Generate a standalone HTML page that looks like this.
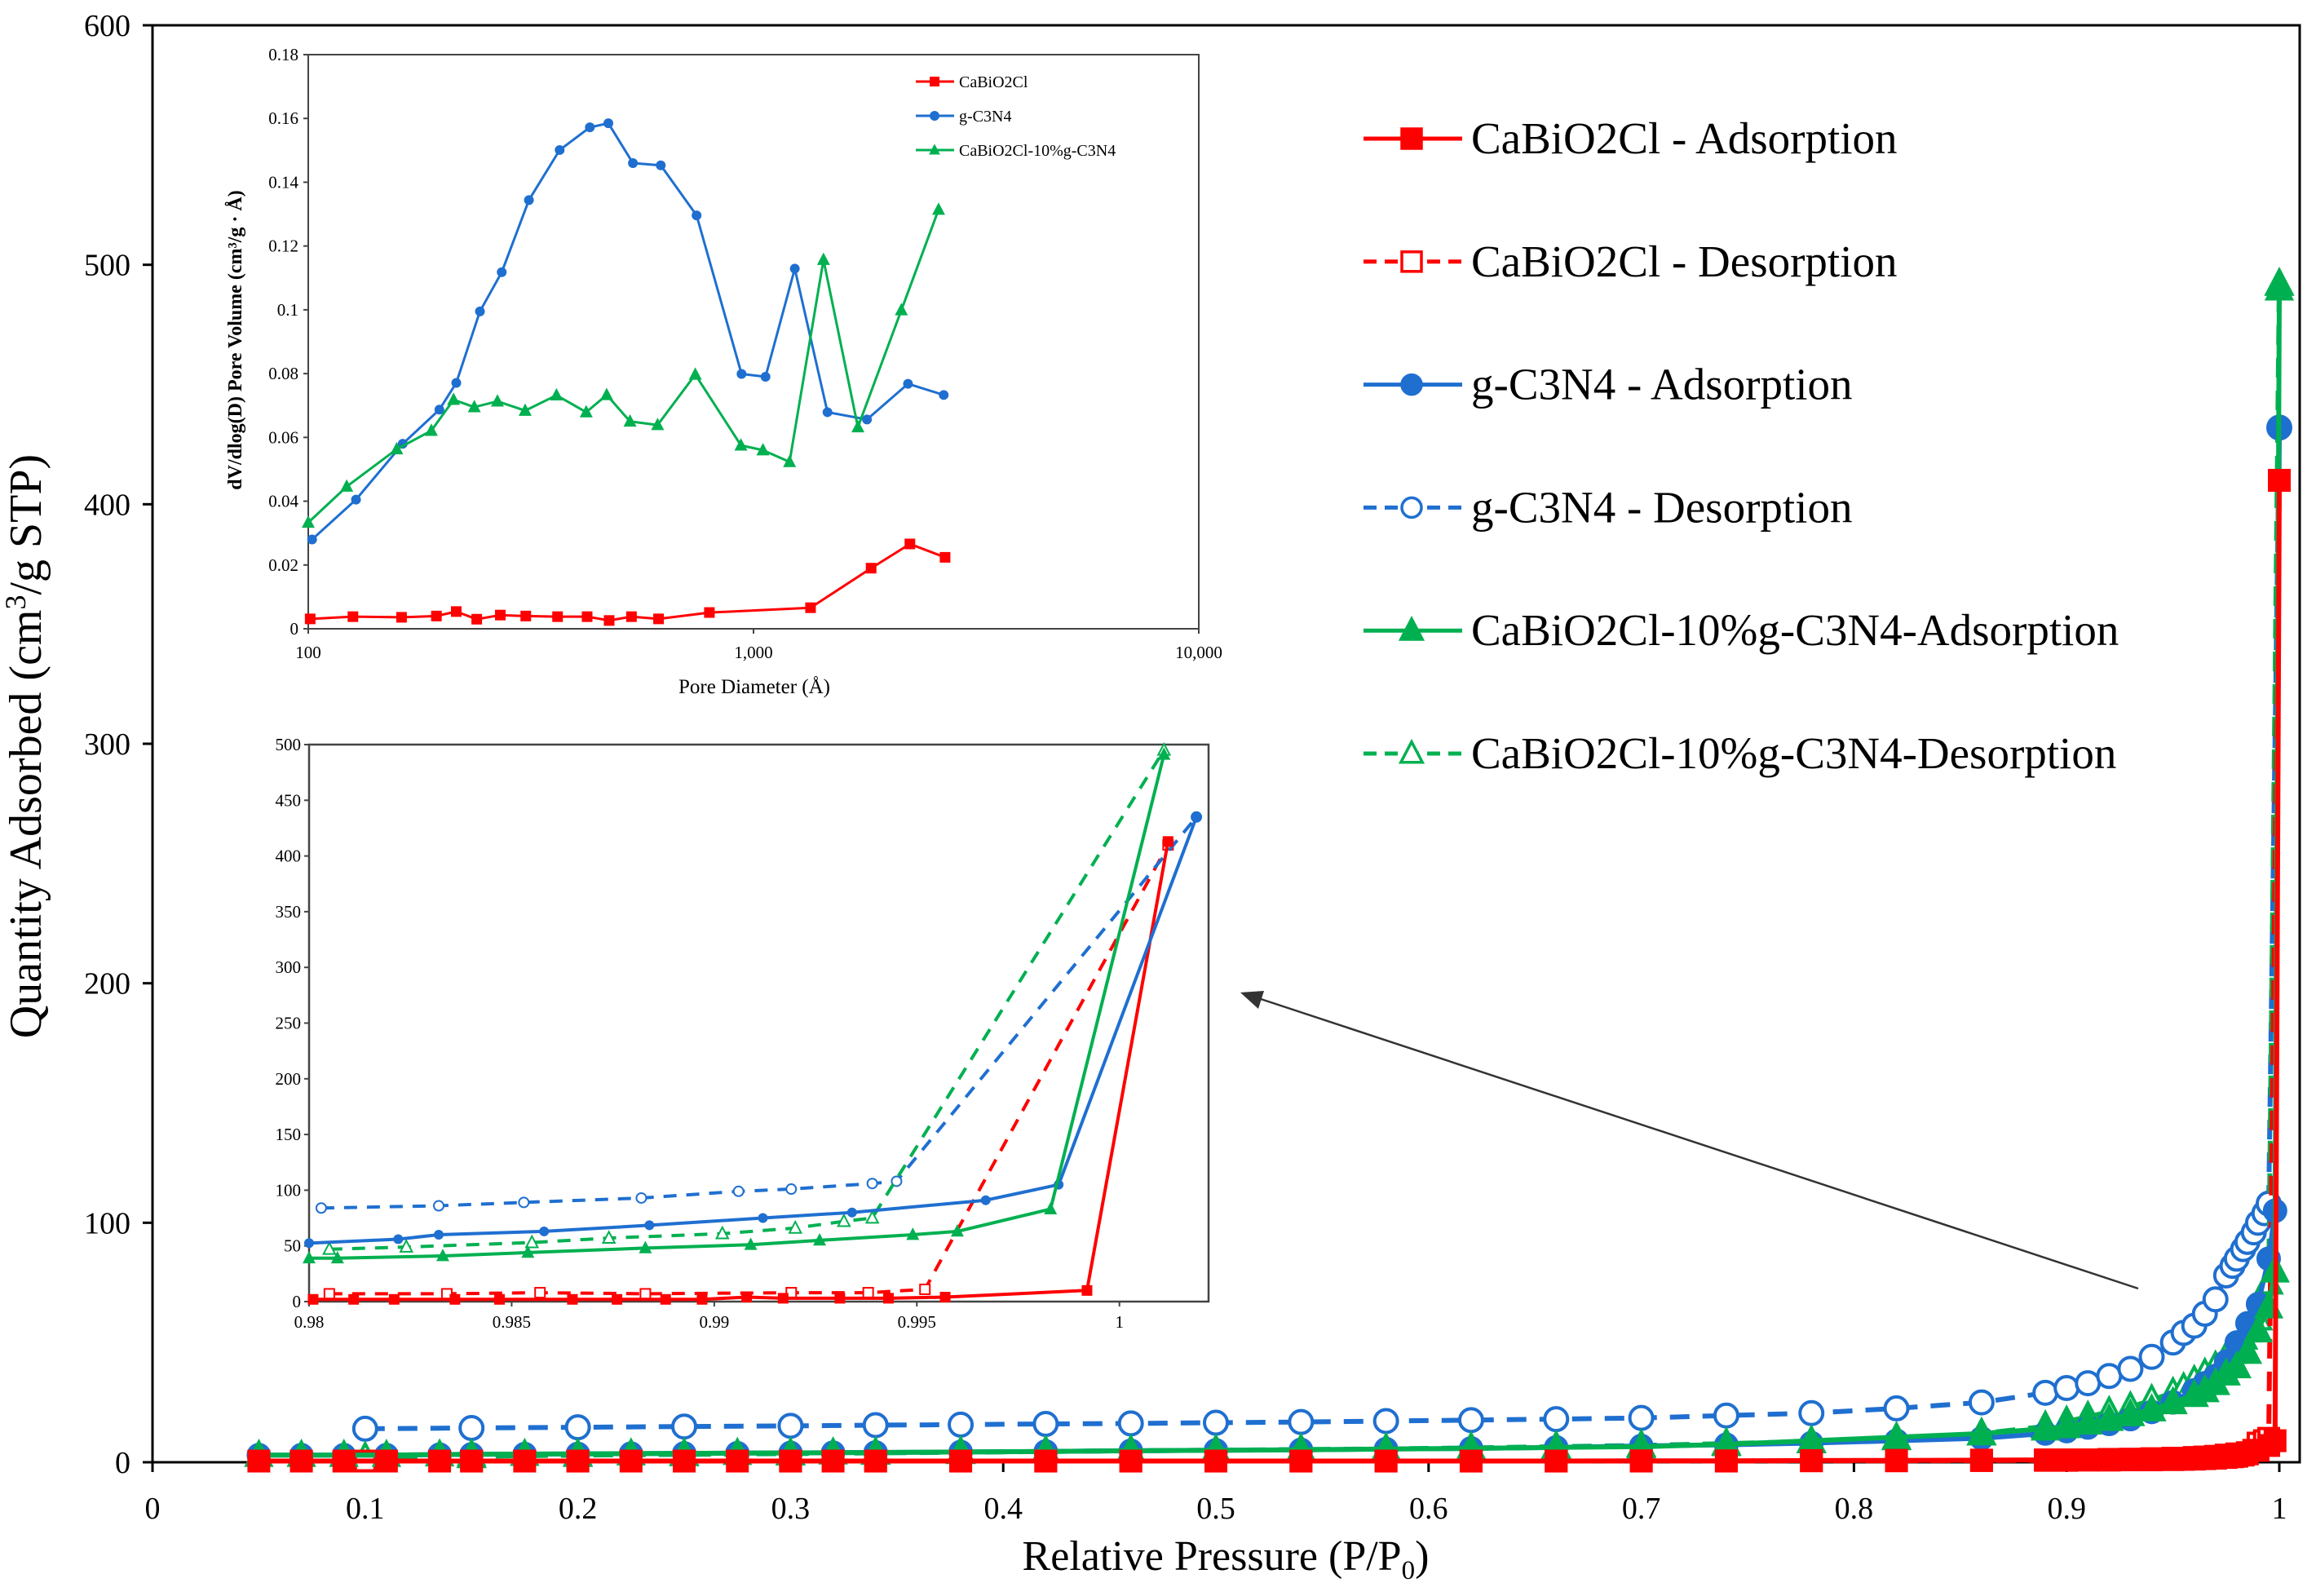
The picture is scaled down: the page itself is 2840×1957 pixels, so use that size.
<!DOCTYPE html>
<html><head><meta charset="utf-8"><style>
html,body{margin:0;padding:0;background:#fff}
svg{display:block;font-family:"Liberation Serif",serif}
</style></head><body>
<svg id="chart" width="2840" height="1957" viewBox="0 0 2840 1957" xmlns="http://www.w3.org/2000/svg">
<rect x="0" y="0" width="2840" height="1957" fill="#fff"/>
<g id="main"></g>
<g id="legend"></g>
<g id="inset1"></g>
<g id="inset2"></g>
<line x1="2622" y1="1580" x2="1540" y2="1223" stroke="#333" stroke-width="2.5"/>
<polygon points="1521,1217 1550,1215 1543,1237" fill="#333"/>
<text x="50" y="915" font-size="56" text-anchor="middle" transform="rotate(-90 50 915)">Quantity Adsorbed (cm<tspan font-size="36" dy="-19">3</tspan><tspan dy="19">/g STP)</tspan></text>
<text x="1503" y="1925" font-size="52" text-anchor="middle">Relative Pressure (P/P<tspan font-size="33" dy="11">0</tspan><tspan dy="-11">)</tspan></text>
</svg>
<script>
// ---- main chart data ----
const adsP = [0.05,0.07,0.09,0.11,0.135,0.15,0.175,0.2,0.225,0.25,0.275,0.3,0.32,0.34,0.38,0.42,0.46,0.5,0.54,0.58,0.62,0.66,0.7,0.74,0.78,0.82,0.86,0.89,0.9,0.91,0.92,0.93,0.94,0.95,0.96,0.965,0.97,0.975,0.98,0.985,0.99,0.995,0.998,1.0];
const redAds = [0.5,0.5,0.5,0.5,0.5,0.5,0.5,0.5,0.5,0.5,0.5,0.5,0.5,0.5,0.5,0.5,0.5,0.5,0.5,0.5,0.5,0.5,0.6,0.6,0.7,0.8,0.9,1,1,1,1.2,1.3,1.5,1.7,2,2.2,2.5,3,3.5,4,5,7,9,410];
const blueAds = [3,3,3,3,3.2,3.3,3.4,3.5,3.6,3.7,3.8,3.9,4,4.1,4.3,4.5,4.8,5,5.2,5.5,5.8,6.2,6.8,7.3,8,9,10,12,13,14.5,16,18,21,25,30,33,36,42,50,58,66,85,105,432];
const greenAds = [3,3,3,3,3.2,3.3,3.4,3.5,3.6,3.7,3.8,3.9,4,4.1,4.3,4.5,4.8,5,5.2,5.5,5.8,6.2,6.5,7.5,9,10.5,12,14,15,16.5,18,20,22,25,28,30,33,37,40,46,55,65,80,490];
const desP = [0.1,0.15,0.2,0.25,0.3,0.34,0.38,0.42,0.46,0.5,0.54,0.58,0.62,0.66,0.7,0.74,0.78,0.82,0.86,0.89,0.9,0.91,0.92,0.93,0.94,0.95,0.955,0.96,0.965,0.97,0.975,0.978,0.98,0.983,0.985,0.988,0.99,0.993,0.995,1.0];
const blueDes = [14,14.3,14.6,14.9,15.2,15.5,15.7,16,16.2,16.5,16.8,17.2,17.6,18,18.5,19.5,20.5,22.5,25,29,31,33,36,39,44,50,54,57,62,68,78,82,85,89,92,96,100,104,108,432];
const greenDes = [2,2.5,3,3.3,3.6,3.9,4.2,4.5,4.8,5,5.3,5.6,6,6.5,7,7.8,8.7,10,12,15,17,19,21,23,26,29,31,34,37,40,44,46,48,52,55,58,60,66,75,492];
const redDes = [0.5,0.5,0.5,0.5,0.5,0.5,0.5,0.5,0.5,0.5,0.5,0.5,0.5,0.5,0.5,0.5,0.6,0.6,0.7,0.8,0.8,0.9,0.9,1,1,1.1,1.2,1.3,1.5,1.7,2,2.3,2.5,3,3.5,5,8,9,10,410];
const xTicks = [0,0.1,0.2,0.3,0.4,0.5,0.6,0.7,0.8,0.9,1];
const yTicks = [0,100,200,300,400,500,600];
// ---- pore size inset data ----
const redD = [101,126,162,194,215,239,270,308,363,423,474,532,612,796,1343,1837,2245,2693];
const redPV = [0.0031,0.0038,0.0036,0.004,0.0054,0.003,0.0043,0.004,0.0038,0.0038,0.0026,0.0038,0.0031,0.0051,0.0066,0.019,0.0266,0.0224];
const blueD = [102,128,163,197,215,243,272,313,367,429,472,536,619,745,940,1064,1238,1466,1798,2223,2674];
const bluePV = [0.028,0.0405,0.058,0.0687,0.0771,0.0995,0.1118,0.1344,0.1501,0.1572,0.1585,0.146,0.1453,0.1296,0.0799,0.079,0.1129,0.0679,0.0656,0.0768,0.0733];
const greenD = [100,122,158,189,212,236,266,307,361,421,468,528,609,740,937,1050,1205,1436,1716,2148,2604];
const greenPV = [0.0333,0.0446,0.0563,0.0621,0.0718,0.0695,0.0713,0.0684,0.0732,0.0679,0.0733,0.065,0.0639,0.0797,0.0575,0.056,0.0523,0.1157,0.0632,0.0999,0.1314];
const poreYTicks = [0,0.02,0.04,0.06,0.08,0.1,0.12,0.14,0.16,0.18];
const poreXTicks = [100,1000,10000];
const poreXLabels = ["100","1,000","10,000"];
// ---- zoom inset data ----
const zRedAdsP = [0.9801,0.9811,0.9821,0.9836,0.9847,0.9865,0.9876,0.9888,0.9897,0.9908,0.9917,0.9931,0.9943,0.9957,0.9992,1.0012];
const zRedAds = [2,2,2,2,2,2,2,2,2,4,3,3,3,4,10,413];
const zRedDesP = [0.9805,0.9834,0.9857,0.9883,0.9919,0.9938,0.9952,1.0012];
const zRedDes = [7,7,8,7,8,8,11,410];
const zBlueAdsP = [0.98,0.9822,0.9832,0.9858,0.9884,0.9912,0.9934,0.9967,0.9985,1.0019];
const zBlueAds = [52.5,56,60,63,68.5,75,80,91,105,435];
const zBlueDesP = [0.9803,0.9832,0.9853,0.9882,0.9906,0.9919,0.9939,0.9945,1.0019];
const zBlueDes = [84,86,89,93,99,101,106,108,435];
const zGreenAdsP = [0.98,0.9807,0.9833,0.9854,0.9883,0.9909,0.9926,0.9949,0.996,0.9983,1.0011];
const zGreenAds = [39,39,41,44,48,51,55,60,63,83,491];
const zGreenDesP = [0.9805,0.9824,0.9855,0.9874,0.9902,0.992,0.9932,0.9939,1.0011];
const zGreenDes = [47,49,53,57,61,66,72,75,495];
const zXTicks = [0.98,0.985,0.99,0.995,1];
const zXLabels = ["0.98","0.985","0.99","0.995","1"];
const zYTicks = [0,50,100,150,200,250,300,350,400,450,500];

const NS = "http://www.w3.org/2000/svg";
const RED = "#ff0000", BLUE = "#1f6fd0", GREEN = "#00b050";
function mk(tag, attrs, parent){
  const el = document.createElementNS(NS, tag);
  for (const k in attrs) el.setAttribute(k, attrs[k]);
  parent.appendChild(el);
  return el;
}
function marker(g, shape, cx, cy, s, color, filled, sw){
  let el;
  const fill = filled ? color : "#fff";
  if (shape === "sq") el = mk("rect", {x:cx-s/2, y:cy-s/2, width:s, height:s, fill:fill, stroke:color, "stroke-width":sw}, g);
  else if (shape === "ci") el = mk("circle", {cx:cx, cy:cy, r:s/2, fill:fill, stroke:color, "stroke-width":sw}, g);
  else el = mk("polygon", {points:`${cx},${cy-s*0.6} ${cx-s*0.55},${cy+s*0.45} ${cx+s*0.55},${cy+s*0.45}`, fill:fill, stroke:color, "stroke-width":sw}, g);
  
  
  return el;
}
function series(parent, name, xs, ys, fx, fy, color, lw, dash, shape, ms, filled, msw){
  const g = mk("g", {}, parent);
  
  
  const pts = xs.map((x,i)=>fx(x).toFixed(1)+","+fy(ys[i]).toFixed(1)).join(" ");
  const pl = mk("polyline", {points:pts, fill:"none", stroke:color, "stroke-width":lw, "stroke-dasharray":dash||"none", "stroke-linejoin":"round"}, g);
  
  
  if (shape) xs.forEach((x,i)=>marker(g, shape, fx(x), fy(ys[i]), ms, color, filled, msw));
}

// ================= MAIN =================
const M = {l:187, r:2795, t:31, b:1793, right:2820};
const mx = v => M.l + v*(M.r-M.l);
const my = v => M.b - v/600*(M.b-M.t);
const main = document.getElementById("main");
const frame = mk("rect", {x:M.l, y:M.t, width:M.right-M.l, height:M.b-M.t, fill:"none", stroke:"#000", "stroke-width":3}, main);


xTicks.forEach(v=>{
  const t = mk("line", {x1:mx(v), x2:mx(v), y1:M.b, y2:M.b+12, stroke:"#000", "stroke-width":3}, main);
  
  
  const l = mk("text", {x:mx(v), y:1862, "font-size":38, "text-anchor":"middle"}, main);
  l.textContent = String(v);
  
  
});
yTicks.forEach(v=>{
  const t = mk("line", {x1:M.l-12, x2:M.l, y1:my(v), y2:my(v), stroke:"#000", "stroke-width":3}, main);
  
  
  const l = mk("text", {x:160, y:my(v)+13, "font-size":38, "text-anchor":"end"}, main);
  l.textContent = String(v);
  
  
});
series(main, "g-c3n4-desorption", desP, blueDes, mx, my, BLUE, 6, "24,16", "ci", 28, false, 4);
series(main, "cabio2cl-10-desorption", desP, greenDes, mx, my, GREEN, 6, "24,16", "tr", 28, false, 4);
series(main, "cabio2cl-desorption", desP, redDes, mx, my, RED, 6, "24,16", "sq", 24, false, 4);
series(main, "g-c3n4-adsorption", adsP, blueAds, mx, my, BLUE, 6, null, "ci", 28, true, 2);
series(main, "cabio2cl-10-adsorption", adsP, greenAds, mx, my, GREEN, 6, null, "tr", 30, true, 2);
series(main, "cabio2cl-adsorption", adsP, redAds, mx, my, RED, 6, null, "sq", 26, true, 2);

// ================= LEGEND =================
const legendItems = [
  ["CaBiO2Cl - Adsorption", RED, null, "sq", true],
  ["CaBiO2Cl - Desorption", RED, "16,10", "sq", false],
  ["g-C3N4 - Adsorption", BLUE, null, "ci", true],
  ["g-C3N4 - Desorption", BLUE, "16,10", "ci", false],
  ["CaBiO2Cl-10%g-C3N4-Adsorption", GREEN, null, "tr", true],
  ["CaBiO2Cl-10%g-C3N4-Desorption", GREEN, "16,10", "tr", false]
];
const legend = document.getElementById("legend");
legendItems.forEach((it,i)=>{
  const y = 170 + i*150.8;
  const g = mk("g", {}, legend);
  
  
  mk("line", {x1:1672, x2:1793, y1:y, y2:y, stroke:it[1], "stroke-width":5, "stroke-dasharray":it[2]||"none"}, g);
  marker(g, it[3], 1731, y, 24, it[1], it[4], 3.5);
  const t = mk("text", {x:1804, y:y+18, "font-size":55}, g);
  t.textContent = it[0];
  
  
});

// ================= INSET 1 =================
const I1 = {l:378, r:1470, t:67, b:771};
const ix = v => I1.l + (Math.log10(v)-2)/2*(I1.r-I1.l);
const iy = v => I1.b - v/0.18*(I1.b-I1.t);
const in1 = document.getElementById("inset1");
const f1 = mk("rect", {x:I1.l, y:I1.t, width:I1.r-I1.l, height:I1.b-I1.t, fill:"#fff", stroke:"#444", "stroke-width":2}, in1);


poreYTicks.forEach(v=>{
  const t = mk("line", {x1:I1.l-6, x2:I1.l, y1:iy(v), y2:iy(v), stroke:"#444", "stroke-width":2}, in1);
  
  
  const l = mk("text", {x:I1.l-12, y:iy(v)+7, "font-size":21, "text-anchor":"end"}, in1);
  l.textContent = String(v);
  
  
});
poreXTicks.forEach((v,i)=>{
  const t = mk("line", {x1:ix(v), x2:ix(v), y1:I1.b, y2:I1.b+6, stroke:"#444", "stroke-width":2}, in1);
  
  
  const l = mk("text", {x:ix(v), y:I1.b+36, "font-size":21, "text-anchor":"middle"}, in1);
  l.textContent = poreXLabels[i];
  
  
});
const t1 = mk("text", {x:925, y:850, "font-size":25, "text-anchor":"middle"}, in1);
t1.textContent = "Pore Diameter (Å)";


const t2 = mk("text", {x:296, y:417, "font-size":24, "font-weight":"bold", "text-anchor":"middle", transform:"rotate(-90 296 417)"}, in1);
t2.textContent = "dV/dlog(D) Pore Volume (cm³/g · Å)";


series(in1, "pore-cabio2cl", redD, redPV, ix, iy, RED, 3, null, "sq", 12, true, 1);
series(in1, "pore-g-c3n4", blueD, bluePV, ix, iy, BLUE, 3, null, "ci", 11, true, 1);
series(in1, "pore-cabio2cl-10", greenD, greenPV, ix, iy, GREEN, 3, null, "tr", 13, true, 1);
[["CaBiO2Cl",RED,"sq"],["g-C3N4",BLUE,"ci"],["CaBiO2Cl-10%g-C3N4",GREEN,"tr"]].forEach((it,i)=>{
  const y = 100 + i*42;
  const g = mk("g", {}, in1);
  
  
  mk("line", {x1:1123, x2:1170, y1:y, y2:y, stroke:it[1], "stroke-width":3}, g);
  marker(g, it[2], 1146, y, 11, it[1], true, 1);
  const t = mk("text", {x:1176, y:y+7, "font-size":20}, g);
  t.textContent = it[0];
  
  
});

// ================= INSET 2 =================
const I2 = {l:379, r:1482, t:913, b:1596};
const zx = v => I2.l + (v-0.98)/0.0222*(I2.r-I2.l);
const zy = v => I2.b - v/500*(I2.b-I2.t);
const in2 = document.getElementById("inset2");
const f2 = mk("rect", {x:I2.l, y:I2.t, width:I2.r-I2.l, height:I2.b-I2.t, fill:"#fff", stroke:"#444", "stroke-width":2.5}, in2);


zYTicks.forEach(v=>{
  const t = mk("line", {x1:I2.l-6, x2:I2.l, y1:zy(v), y2:zy(v), stroke:"#444", "stroke-width":2}, in2);
  
  
  const l = mk("text", {x:I2.l-10, y:zy(v)+7, "font-size":21, "text-anchor":"end"}, in2);
  l.textContent = String(v);
  
  
});
zXTicks.forEach((v,i)=>{
  const t = mk("line", {x1:zx(v), x2:zx(v), y1:I2.b, y2:I2.b+6, stroke:"#444", "stroke-width":2}, in2);
  
  
  const l = mk("text", {x:zx(v), y:I2.b+32, "font-size":21, "text-anchor":"middle"}, in2);
  l.textContent = zXLabels[i];
  
  
});
series(in2, "zoom-red-des", zRedDesP, zRedDes, zx, zy, RED, 4, "16,12", "sq", 12, false, 2);
series(in2, "zoom-blue-des", zBlueDesP, zBlueDes, zx, zy, BLUE, 4, "16,12", "ci", 12, false, 2);
series(in2, "zoom-green-des", zGreenDesP, zGreenDes, zx, zy, GREEN, 4, "16,12", "tr", 13, false, 2);
series(in2, "zoom-red-ads", zRedAdsP, zRedAds, zx, zy, RED, 4, null, "sq", 12, true, 1);
series(in2, "zoom-blue-ads", zBlueAdsP, zBlueAds, zx, zy, BLUE, 4, null, "ci", 11, true, 1);
series(in2, "zoom-green-ads", zGreenAdsP, zGreenAds, zx, zy, GREEN, 4, null, "tr", 13, true, 1);
</script>
</body></html>
